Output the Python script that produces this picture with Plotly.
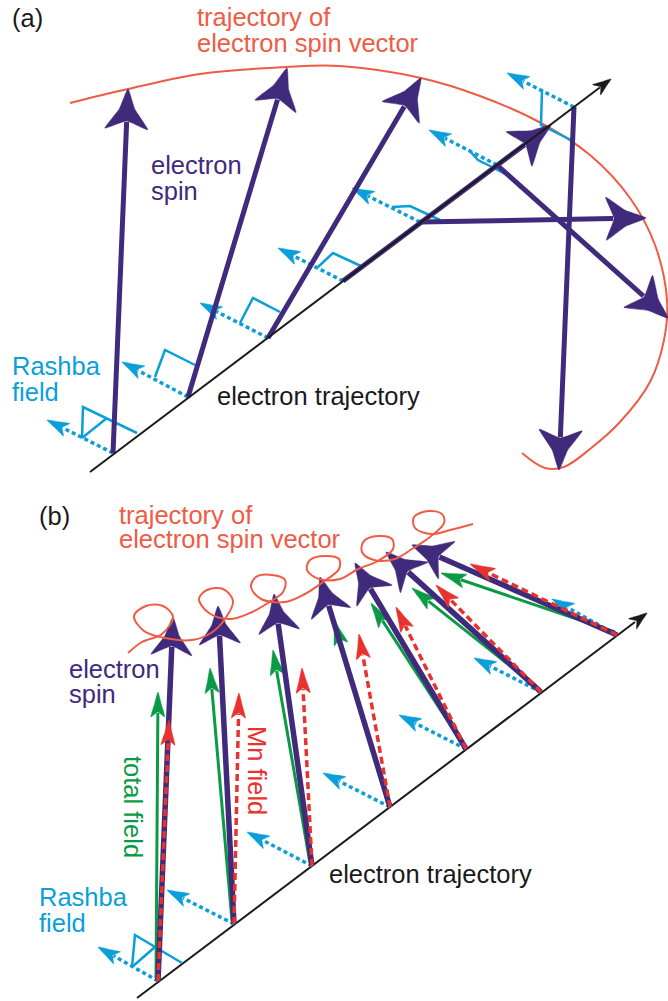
import math
import plotly.graph_objects as go

W, H = 668, 1001
PURPLE = "#3f2a7b"
CYAN = "#0a9fd8"
ORANGE = "#ef5b44"
GREEN = "#0a9a45"
RED = "#e8322e"
BLACK = "#1a1a1a"
FONT = "Liberation Sans, Arial, sans-serif"
FS = 25.5

# ---------------- Panel (a) data ----------------
a_traj_x = [90, 611]
a_traj_y = [472, 79]
a_spin_base_x = [113, 188, 268, 343, 420, 497, 574]
a_spin_base_y = [453, 397, 338, 281, 222, 165, 107]
a_spin_tip_x = [128, 287, 421, 551, 646, 668, 559]
a_spin_tip_y = [89, 68, 78, 125, 218, 318, 470]
a_rashba_tip_x = [47, 122, 200, 278, 352, 429, 507]
a_rashba_tip_y = [420, 362, 303, 248, 188, 130, 73]
a_marks_x = [[82, 83, 137], [82, 107], [155, 165, 195], [240, 253, 280],
             [318, 333, 363], [392, 410, 440], [469, 478, 490, 507], [542, 541, 571]]
a_marks_y = [[438, 407, 433], [438, 418], [377, 350, 365], [323, 298, 312],
             [267, 253, 267], [207, 206, 220], [150, 160, 166, 175], [90, 125, 140]]
a_orbit_x = [70, 128, 200, 286, 340, 421, 480, 541, 590, 630, 655, 667, 664, 650, 620, 590, 564, 545, 522]
a_orbit_y = [103, 89, 74, 67, 66, 78, 96, 123, 155, 198, 245, 300, 340, 382, 422, 449, 467, 468, 453]

# ---------------- Panel (b) data ----------------
b_traj_x = [137, 647]
b_traj_y = [998, 613]
b_base_x = [158, 234, 312, 390, 466, 541, 617]
b_base_y = [981, 924, 866, 807, 749, 692, 635]
b_spin_tip_x = [173, 218, 274, 320, 355, 386, 412]
b_spin_tip_y = [617, 606, 594, 577, 563, 552, 545]
b_total_tip_x = [158, 210, 273, 334, 371, 412, 441]
b_total_tip_y = [692, 668, 650, 620, 603, 588, 573]
b_mn_tip_x = [169, 239, 302, 359, 396, 436, 470]
b_mn_tip_y = [720, 693, 668, 634, 607, 585, 564]
b_rashba_tip_x = [98, 167, 247, 323, 399, 474, 552]
b_rashba_tip_y = [947, 890, 832, 773, 715, 658, 599]
b_marks_x = [[132, 135, 182], [132, 155]]
b_marks_y = [[967, 935, 963], [967, 947]]
b_coil_x = [128, 142, 162, 173, 163, 146, 134, 144, 165, 192, 211, 225, 233, 223, 207, 199, 209, 230,
            250, 268, 283, 285, 272, 256, 251, 261, 285, 305, 323, 339, 339, 325, 310, 307, 319, 340,
            358, 378, 393, 392, 378, 364, 362, 374, 395, 412, 430, 444, 442, 428, 414, 415, 432, 450, 473]
b_coil_y = [653, 642, 634, 617, 606, 606, 616, 631, 638, 640, 633, 619, 601, 589, 590, 599, 613, 619,
            613, 603, 592, 580, 575, 577, 587, 599, 602, 594, 582, 569, 559, 556, 560, 570, 579, 579,
            569, 561, 549, 539, 536, 541, 552, 560, 559, 549, 537, 523, 514, 511, 517, 528, 534, 530, 524]

fig = go.Figure()


def line(xs, ys, color, width, dash=None, shape="linear"):
    fig.add_trace(go.Scatter(x=xs, y=ys, mode="lines",
                             line=dict(color=color, width=width, dash=dash, shape=shape),
                             hoverinfo="skip", showlegend=False))


def head(tx, ty, bx, by, L, Wd, notch, color, concave=0.0):
    dx, dy = tx - bx, ty - by
    n = math.hypot(dx, dy)
    ux, uy = dx / n, dy / n
    px, py = -uy, ux
    b1 = (tx - L * ux + Wd / 2 * px, ty - L * uy + Wd / 2 * py)
    b2 = (tx - L * ux - Wd / 2 * px, ty - L * uy - Wd / 2 * py)
    nt = (tx - notch * ux, ty - notch * uy)
    m1 = ((tx + b1[0]) / 2 - concave * px, (ty + b1[1]) / 2 - concave * py)
    m2 = ((tx + b2[0]) / 2 + concave * px, (ty + b2[1]) / 2 + concave * py)
    xs = [tx, m1[0], b1[0], nt[0], b2[0], m2[0], tx]
    ys = [ty, m1[1], b1[1], nt[1], b2[1], m2[1], ty]
    fig.add_trace(go.Scatter(x=xs, y=ys, mode="lines", fill="toself", fillcolor=color,
                             line=dict(color=color, width=0.5, shape="spline", smoothing=0.4),
                             hoverinfo="skip", showlegend=False))


def arrow(bx, by, tx, ty, color, width, L, Wd, notch, dash=None, concave=0.0):
    dx, dy = tx - bx, ty - by
    n = math.hypot(dx, dy)
    ux, uy = dx / n, dy / n
    ex, ey = tx - (notch + 1) * ux, ty - (notch + 1) * uy
    line([bx, ex], [by, ey], color, width, dash)
    head(tx, ty, bx, by, L, Wd, notch, color, concave)


# ---------------- Panel (a) drawing ----------------
line(a_orbit_x, a_orbit_y, ORANGE, 2, shape="spline")
for mx, my in zip(a_marks_x, a_marks_y):
    line(mx, my, CYAN, 2.5)
for i in range(7):
    arrow(a_spin_base_x[i], a_spin_base_y[i], a_rashba_tip_x[i], a_rashba_tip_y[i],
          CYAN, 3.5, 22, 14, 17, dash="4px,3px")
for i in range(7):
    arrow(a_spin_base_x[i], a_spin_base_y[i], a_spin_tip_x[i], a_spin_tip_y[i],
          PURPLE, 5, 40, 43, 32, concave=3)
arrow(a_traj_x[0], a_traj_y[0], a_traj_x[1], a_traj_y[1], BLACK, 2, 18, 13, 13)

# ---------------- Panel (b) drawing ----------------
line(b_traj_x[:1] + [b_traj_x[1] - 12], b_traj_y[:1] + [b_traj_y[1] + 9], BLACK, 2)
head(b_traj_x[1], b_traj_y[1], b_traj_x[0], b_traj_y[0], 18, 13, 13, BLACK)
for mx, my in zip(b_marks_x, b_marks_y):
    line(mx, my, CYAN, 2.5)
for i in range(7):
    arrow(b_base_x[i], b_base_y[i], b_rashba_tip_x[i], b_rashba_tip_y[i],
          CYAN, 3.5, 22, 14, 17, dash="4px,3px")
for i in range(7):
    arrow(b_base_x[i] - 2, b_base_y[i] - 3, b_total_tip_x[i], b_total_tip_y[i],
          GREEN, 3, 25, 14, 20)
for i in range(7):
    arrow(b_base_x[i], b_base_y[i], b_spin_tip_x[i], b_spin_tip_y[i],
          PURPLE, 5.5, 38, 41, 29, concave=3)
for i in range(7):
    arrow(b_base_x[i], b_base_y[i], b_mn_tip_x[i], b_mn_tip_y[i],
          RED, 3.5, 25, 14, 20, dash="7px,4px")
line(b_coil_x, b_coil_y, ORANGE, 2, shape="spline")


# ---------------- Text ----------------
def text(s, x, baseline, color, size=FS, angle=0, anchor="left"):
    fig.add_annotation(x=x, y=baseline - 0.32 * size if angle == 0 else baseline, text=s,
                       showarrow=False, xref="x", yref="y", xanchor=anchor,
                       yanchor="middle", textangle=angle,
                       font=dict(family=FONT, size=size, color=color))


text("(a)", 10, 26, BLACK)
text("trajectory of", 195, 25, ORANGE)
text("electron spin vector", 195, 51, ORANGE)
text("electron", 149, 173, PURPLE)
text("spin", 149, 199, PURPLE)
text("Rashba", 10, 374, CYAN)
text("field", 10, 400, CYAN)
text("electron trajectory", 215, 404, BLACK)

text("(b)", 37, 524, BLACK)
text("trajectory of", 117, 523, ORANGE)
text("electron spin vector", 117, 547, ORANGE)
text("electron", 67, 677, PURPLE)
text("spin", 67, 702, PURPLE)
text("Rashba", 37, 905, CYAN)
text("field", 37, 931, CYAN)
text("electron trajectory", 327, 882, BLACK)
text("total field", 133, 807, GREEN, angle=90, anchor="center")
text("Mn field", 257, 770, RED, angle=90, anchor="center")

fig.update_layout(
    width=W, height=H, margin=dict(l=0, r=0, t=0, b=0), autosize=False,
    paper_bgcolor="white", plot_bgcolor="white",
    xaxis=dict(range=[0, W], visible=False, fixedrange=True),
    yaxis=dict(range=[H, 0], visible=False, fixedrange=True),
    showlegend=False,
)
fig.write_html(
    "out.html",
    config={"displayModeBar": False, "staticPlot": True},
    post_script="document.body.style.margin='0';document.body.style.padding='0';"
                "document.documentElement.style.overflow='hidden';",
)
